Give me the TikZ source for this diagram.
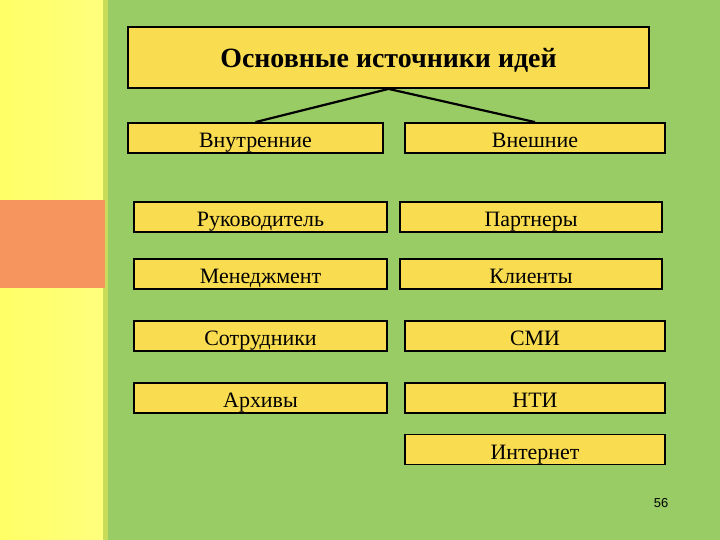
\documentclass[tikz,border=0pt]{standalone}
\usepackage{fontspec}
\setmainfont{Liberation Serif}
\newfontfamily\pagenumfont{Liberation Sans}
\usetikzlibrary{positioning}

\definecolor{slidegreen}{HTML}{9ACC66}
\definecolor{stripyellow}{HTML}{FFFF66}
\definecolor{stripedge}{HTML}{C8DC5A}
\definecolor{stripred}{HTML}{F7955F}
\definecolor{boxyellow}{HTML}{F9DC50}

\begin{document}
\begin{tikzpicture}[x=1bp,y=-1bp,thick,
    src/.style={draw=black,line width=1.8pt,fill=boxyellow,inner sep=0pt,
        minimum height=30bp,text height=19bp,text depth=0bp,
        font=\fontsize{22}{24}\selectfont},
    head/.style={src,minimum height=61bp,text height=20bp,
        font=\bfseries\fontsize{28}{30}\selectfont}]

    % The background
	\useasboundingbox (0,0) rectangle (720,540);
	\fill[slidegreen] (0,0) rectangle (720,540);
	\shade[left color=stripyellow,right color=stripyellow!85!white] (0,0) rectangle (103,540);
	\fill[stripedge] (103,0) rectangle (108,540);
	\fill[stripred] (0,200) rectangle (105,288);

    % The tree head
	\node [head,minimum width=521bp] at (388.5,57.5) (title) {Основные источники идей};
	\node [src,minimum width=255bp] at (255.5,138) (inner) {Внутренние};
	\node [src,minimum width=260bp] at (535,138) (outer) {Внешние};

	% Head edges
	\path[-,line width=2.2pt]
	(title.south) edge (inner.north)
	(title.south) edge (outer.north);

    % Internal sources
	\node [src,minimum width=253bp] at (260.5,217) (boss) {Руководитель};
	\node [src,minimum width=253bp] at (260.5,274) (mgmt) {Менеджмент};
	\node [src,minimum width=253bp] at (260.5,336) (staff) {Сотрудники};
	\node [src,minimum width=253bp] at (260.5,398) (arch) {Архивы};

    % External sources
	\node [src,minimum width=262bp] at (531,217) (partn) {Партнеры};
	\node [src,minimum width=262bp] at (531,274) (clients) {Клиенты};
	\node [src,minimum width=260bp] at (535,336) (media) {СМИ};
	\node [src,minimum width=260bp] at (535,398) (nti) {НТИ};
	\node [src,minimum width=260bp] at (535,449.5) (web) {Интернет};

	\node at (661,503) (pgnum) {\pagenumfont\fontsize{13}{15}\selectfont 56};

\end{tikzpicture}
\end{document}
